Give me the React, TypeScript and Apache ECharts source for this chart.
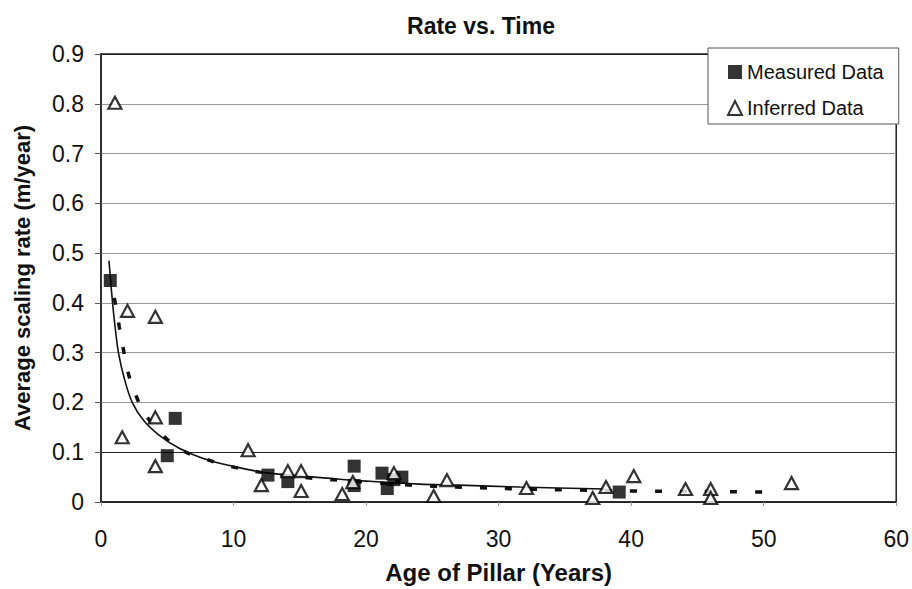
import React, { useEffect, useRef } from "react";
import * as echarts from "echarts";

const measuredData: [number, number][] = [
  [0.7, 0.445], [5.0, 0.093], [5.6, 0.168], [12.6, 0.054], [14.1, 0.041],
  [19.1, 0.072], [19.1, 0.033], [21.2, 0.058], [21.6, 0.027], [22.1, 0.045],
  [22.7, 0.05], [39.1, 0.02],
];

const inferredData: [number, number][] = [
  [1.05, 0.802], [1.6, 0.13], [2.0, 0.384], [4.1, 0.372], [4.1, 0.17],
  [4.1, 0.072], [11.1, 0.104], [12.1, 0.034], [14.1, 0.062], [15.1, 0.062],
  [15.1, 0.022], [18.2, 0.016], [19.0, 0.04], [22.1, 0.058], [25.1, 0.012],
  [26.1, 0.044], [32.1, 0.028], [37.1, 0.008], [38.1, 0.03], [40.2, 0.052],
  [44.1, 0.026], [46.0, 0.026], [46.0, 0.008], [52.1, 0.038],
];

const solidTrend: [number, number][] = [
  [0.6, 0.485], [0.88, 0.398], [1.08, 0.348], [1.33, 0.298], [1.76, 0.248],
  [2.39, 0.198], [3.27, 0.162], [4.4, 0.134], [5.9, 0.108], [7.66, 0.088],
  [9.9, 0.072], [12.4, 0.059], [15.2, 0.052], [17, 0.048], [20, 0.042],
  [24, 0.036], [27, 0.034], [31.6, 0.03], [38, 0.026],
];

const dashedTrend: [number, number][] = [
  [1.0, 0.41], [1.18, 0.385], [1.38, 0.352], [1.68, 0.308], [2.0, 0.264],
  [2.58, 0.218], [3.34, 0.176], [4.6, 0.136], [6.1, 0.104], [7.8, 0.087],
  [9.7, 0.072], [12, 0.06], [15, 0.05], [20, 0.04], [24, 0.033], [28, 0.029],
  [32, 0.026], [36, 0.024], [40, 0.022], [45, 0.021], [51, 0.02],
];

const yTicks = ["0", "0.1", "0.2", "0.3", "0.4", "0.5", "0.6", "0.7", "0.8", "0.9"];

const FONT = "'Liberation Sans', Arial, sans-serif";

export default function App() {
  const ref = useRef<HTMLDivElement>(null);
  useEffect(() => {
    if (!ref.current) return;
    const chart = echarts.init(ref.current, null, { renderer: "svg" });
    chart.setOption({
      animation: false,
      backgroundColor: "#fff",
      textStyle: { fontFamily: FONT },
      title: {
        text: "Rate vs. Time",
        left: 476,
        textAlign: "center",
        top: 9,
        textStyle: { fontFamily: FONT, fontSize: 23, fontWeight: "bold", color: "#111" },
      },
      legend: {
        orient: "vertical",
        left: 708,
        top: 48,
        padding: [14, 15, 6, 19],
        itemGap: 16,
        itemWidth: 14,
        itemHeight: 14,
        backgroundColor: "#fff",
        borderColor: "#555",
        borderWidth: 1,
        data: ["Measured Data", "Inferred Data"],
        textStyle: { fontFamily: FONT, fontSize: 20, color: "#111" },
      },
      grid: {
        left: 101,
        right: 15,
        top: 54,
        bottom: 84,
        show: true,
        borderColor: "#222",
        borderWidth: 1.5,
      },
      xAxis: {
        type: "value",
        min: 0,
        max: 60,
        interval: 10,
        name: "Age of Pillar (Years)",
        nameLocation: "middle",
        nameGap: 58,
        nameTextStyle: { fontFamily: FONT, fontSize: 24, fontWeight: "bold", color: "#111" },
        axisLine: { show: true, lineStyle: { color: "#222", width: 1.5 } },
        axisTick: { show: true, inside: false, length: 4, lineStyle: { color: "#999" } },
        axisLabel: { fontFamily: FONT, fontSize: 23, color: "#111", margin: 25 },
        splitLine: { show: false },
      },
      yAxis: {
        type: "value",
        min: 0,
        max: 0.9,
        interval: 0.1,
        name: "Average scaling rate (m/year)",
        nameLocation: "middle",
        nameGap: 68,
        nameTextStyle: { fontFamily: FONT, fontSize: 22, fontWeight: "bold", color: "#111" },
        axisLine: { show: true, lineStyle: { color: "#222", width: 1.5 } },
        axisTick: { show: true, inside: false, length: 6, lineStyle: { color: "#555" } },
        axisLabel: {
          fontFamily: FONT,
          fontSize: 23,
          color: "#111",
          margin: 17,
          formatter: (v: number) => yTicks[Math.round(v * 10)] ?? String(v),
        },
        splitLine: {
          show: true,
          lineStyle: {
            color: ["#222", "#222", "#999", "#999", "#999", "#999", "#999", "#999", "#999", "#222"],
            width: 1,
          },
        },
      },
      series: [
        {
          name: "Solid Trend",
          type: "line",
          data: solidTrend,
          smooth: 0.4,
          showSymbol: false,
          symbol: "none",
          lineStyle: { color: "#111", width: 1.6 },
          z: 3,
        },
        {
          name: "Dashed Trend",
          type: "line",
          data: dashedTrend,
          smooth: 0.4,
          showSymbol: false,
          symbol: "none",
          lineStyle: { color: "#111", width: 3.5, type: [7, 18] },
          z: 3,
        },
        {
          name: "Measured Data",
          type: "scatter",
          data: measuredData,
          symbol: "rect",
          symbolSize: 13,
          itemStyle: { color: "#000" },
          z: 5,
        },
        {
          name: "Inferred Data",
          type: "scatter",
          data: inferredData,
          symbol: "triangle",
          symbolSize: [13, 12],
          itemStyle: { color: "#fff", borderColor: "#000", borderWidth: 2.2 },
          z: 6,
        },
      ],
    });
    return () => chart.dispose();
  }, []);
  return (
    <div
      ref={ref}
      style={{ position: "fixed", left: 0, top: 0, width: 912, height: 589 }}
    />
  );
}
